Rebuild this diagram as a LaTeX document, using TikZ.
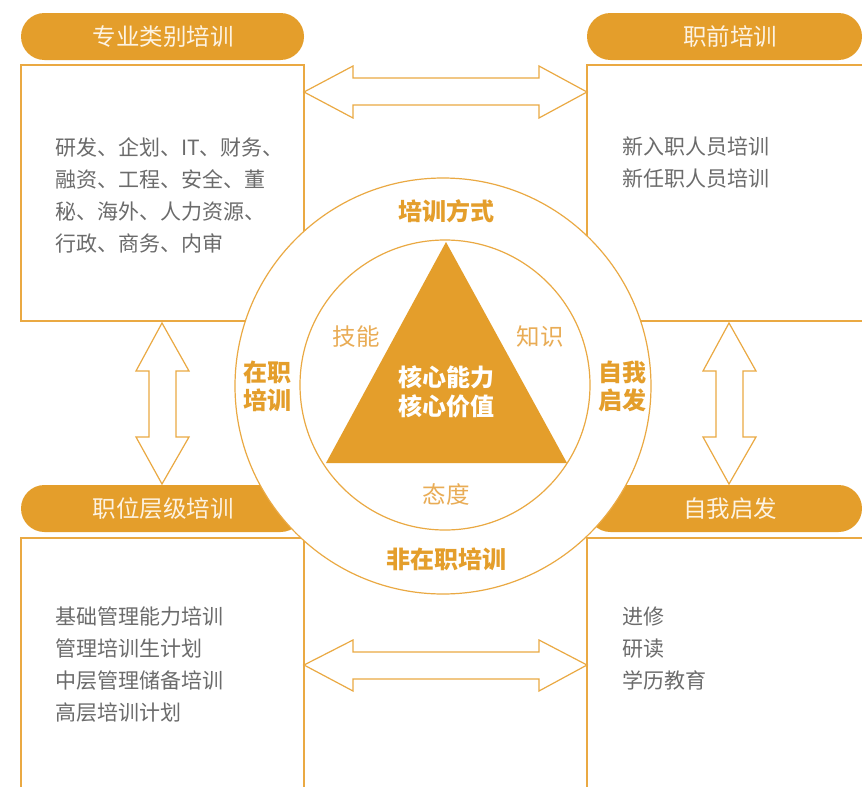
\documentclass[tikz,border=0pt]{standalone}
\usepackage{fontspec}
\setmainfont{Noto Sans CJK SC}
\definecolor{ofill}{HTML}{E49E2B}
\definecolor{oline}{HTML}{EAA943}
\definecolor{olight}{HTML}{E9AC55}
\definecolor{gtext}{HTML}{6B6B6B}
\definecolor{ptext}{HTML}{FDF3E3}
\tikzset{
  boxline/.style={draw=oline, line width=1.2pt},
  pill/.style={fill=ofill, rounded corners=23.5pt},
  pilltext/.style={text=ptext, font=\fontsize{23.5}{28}\selectfont, inner sep=0pt},
  bodytext/.style={text=gtext, font=\fontsize{21}{32}\selectfont, align=left, anchor=west, inner sep=0pt},
  blockarrow/.style={draw=oline, line width=1.2pt, fill=white, line join=miter},
  boldlabel/.style={text=ofill, font=\bfseries\fontsize{24}{28}\selectfont, align=center, inner sep=0pt},
  lightlabel/.style={text=olight, font=\fontsize{23.5}{28}\selectfont, inner sep=0pt},
  corelabel/.style={text=white, font=\bfseries\fontsize{24}{29}\selectfont, align=center, inner sep=0pt}
}
\begin{document}
\begin{tikzpicture}[x=1pt,y=-1pt]
\path[use as bounding box, fill=white] (0,0) rectangle (862,787);
\clip (0,0) rectangle (862,787);
% boxes
\draw[boxline] (21,65) rectangle (304,321);
\draw[boxline] (870,65) -- (587,65) -- (587,321) -- (870,321);
\draw[boxline] (21,800) -- (21,538) -- (304,538) -- (304,800);
\draw[boxline] (870,538) -- (587,538) -- (587,800);
% pills
\fill[pill] (21,13) rectangle (304,60);
\fill[pill] (587,13) rectangle (862,60);
\fill[pill] (21,485) rectangle (304,532);
\fill[pill] (587,485) rectangle (862,532);
\node[pilltext] (p1) at (163,37) {专业类别培训};
\node[pilltext] (p2) at (730,37) {职前培训};
\node[pilltext] (p3) at (163,509) {职位层级培训};
\node[pilltext] (p4) at (730,509) {自我启发};
% body texts
\node[bodytext] (t1) at (55,195) {研发、企划、IT、财务、\\融资、工程、安全、董\\秘、海外、人力资源、\\行政、商务、内审};
\node[bodytext] (t2) at (622,163) {新入职人员培训\\新任职人员培训};
\node[bodytext] (t3) at (55,665) {基础管理能力培训\\管理培训生计划\\中层管理储备培训\\高层培训计划};
\node[bodytext] (t4) at (622,649) {进修\\研读\\学历教育};
% block arrows
\draw[blockarrow] (304,92) -- (353,66) -- (353,78) -- (539,78) -- (539,66) -- (587,92) -- (539,118) -- (539,105) -- (353,105) -- (353,118) -- cycle;
\draw[blockarrow] (304,665) -- (353,640) -- (353,652) -- (539,652) -- (539,640) -- (587,665) -- (539,691) -- (539,679) -- (353,679) -- (353,691) -- cycle;
\draw[blockarrow] (162,323) -- (189,371) -- (176,371) -- (176,437) -- (189,437) -- (162,484) -- (136,437) -- (149,437) -- (149,371) -- (136,371) -- cycle;
\draw[blockarrow] (729,323) -- (756,371) -- (743,371) -- (743,437) -- (756,437) -- (729,484) -- (703,437) -- (716,437) -- (716,371) -- (703,371) -- cycle;
% circles
\draw[boxline, fill=white] (443,386) circle[radius=208];
\draw[boxline] (445,385) circle[radius=145];
\fill[ofill] (446,242) -- (567,463) -- (326,463) -- cycle;
% labels
\node[boldlabel] (l1) at (446,211) {培训方式};
\node[boldlabel] (l2) at (446,559) {非在职培训};
\node[boldlabel, font=\bfseries\fontsize{24}{28}\selectfont] (l3) at (267,386) {在职\\培训};
\node[boldlabel, font=\bfseries\fontsize{24}{28}\selectfont] (l4) at (622,386) {自我\\启发};
\node[lightlabel] (s1) at (356,337) {技能};
\node[lightlabel] (s2) at (540,337) {知识};
\node[lightlabel] (s3) at (446,495) {态度};
\node[corelabel] (c1) at (446,392) {核心能力\\核心价值};
\end{tikzpicture}
\end{document}
